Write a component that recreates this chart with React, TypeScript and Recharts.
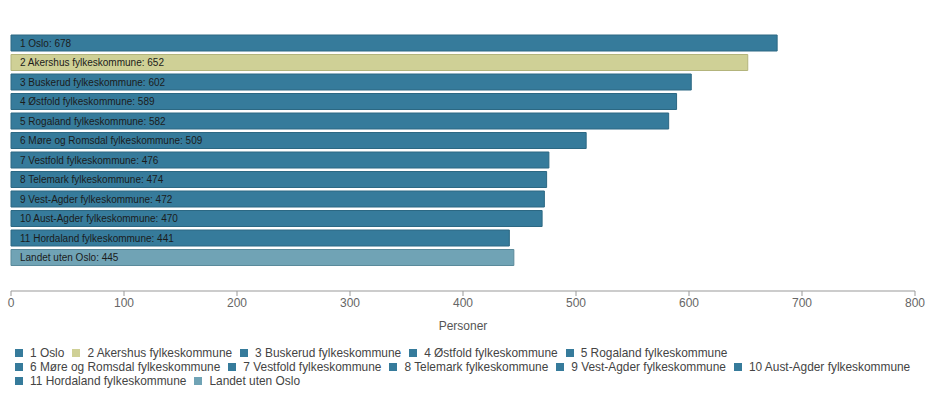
import React from 'react'
import { BarChart, Bar, XAxis, YAxis, Cell, LabelList } from 'recharts'

const names = [
  '1 Oslo',
  '2 Akershus fylkeskommune',
  '3 Buskerud fylkeskommune',
  '4 Østfold fylkeskommune',
  '5 Rogaland fylkeskommune',
  '6 Møre og Romsdal fylkeskommune',
  '7 Vestfold fylkeskommune',
  '8 Telemark fylkeskommune',
  '9 Vest-Agder fylkeskommune',
  '10 Aust-Agder fylkeskommune',
  '11 Hordaland fylkeskommune',
  'Landet uten Oslo',
]
const values = [678, 652, 602, 589, 582, 509, 476, 474, 472, 470, 441, 445]
const xTicks = [0, 100, 200, 300, 400, 500, 600, 700, 800]

const BLUE = '#367b9b'
const fills: Record<string, [string, string]> = {
  '2 Akershus fylkeskommune': ['#cfd096', '#b3b47c'],
  'Landet uten Oslo': ['#70a3b5', '#5a8a9b'],
}
const colorOf = (n: string) => fills[n] ?? [BLUE, '#2c6883']

const data = names.map((name, i) => ({ name, value: values[i] }))

const FONT = 'Arial, "Liberation Sans", sans-serif'

function BarLabel(props: any) {
  const { x, y, height, index } = props
  return (
    <text x={x + 9} y={y + height / 2} dy="0.35em" fontSize={10} fill="#1b1b1b" fontFamily={FONT}>
      {`${names[index]}: ${values[index]}`}
    </text>
  )
}

function LegendBlock() {
  // legend breaks into three rows like the original
  const rows = [names.slice(0, 5), names.slice(5, 10), names.slice(10)]
  return (
    <div style={{ position: 'absolute', left: 15, top: 346, fontFamily: FONT, fontSize: 11.9, color: '#444' }}>
      {rows.map((r, ri) => (
        <div key={ri} style={{ display: 'flex', height: 14, alignItems: 'center', whiteSpace: 'nowrap' }}>
          {r.map(n => (
            <span key={n} style={{ display: 'inline-flex', alignItems: 'center', marginRight: 8 }}>
              <span style={{ width: 8, height: 8, background: colorOf(n)[0], marginRight: 7, display: 'inline-block' }} />
              {n}
            </span>
          ))}
        </div>
      ))}
    </div>
  )
}

export default function App() {
  return (
    <div style={{ position: 'absolute', left: 0, top: 0, width: 925, height: 404, background: '#fff' }}>
      <BarChart
        width={925}
        height={404}
        data={data}
        layout="vertical"
        margin={{ top: 9, right: 10, left: 11, bottom: 73 }}
        style={{ overflow: 'visible' }}
      >
        <XAxis
          type="number"
          domain={[0, 800]}
          ticks={xTicks}
          interval={0}
          height={40}
          tick={{ fill: '#666', fontSize: 12, fontFamily: FONT }}
          tickLine={{ stroke: '#999' }}
          tickSize={5}
          axisLine={{ stroke: '#999' }}
          label={{ value: 'Personer', position: 'insideBottom', offset: 1, fill: '#555', fontSize: 12, fontFamily: FONT }}
        />
        <YAxis
          type="category"
          dataKey="name"
          width={0}
          tick={false}
          tickLine={false}
          axisLine={{ stroke: '#999' }}
          padding={{ top: 24, bottom: 24 }}
        />
        <Bar dataKey="value" barSize={16} isAnimationActive={false}>
          {data.map(d => (
            <Cell key={d.name} fill={colorOf(d.name)[0]} stroke={colorOf(d.name)[1]} strokeWidth={1} />
          ))}
          <LabelList dataKey="value" content={<BarLabel />} />
        </Bar>
      </BarChart>
      <LegendBlock />
    </div>
  )
}
